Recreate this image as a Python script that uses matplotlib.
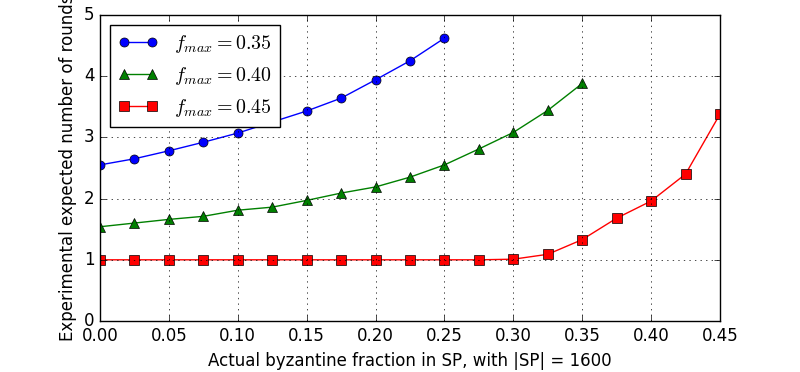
import matplotlib
matplotlib.use("Agg")
import matplotlib.pyplot as plt

plt.style.use('classic')

x_blue = [0.0, 0.025, 0.05, 0.075, 0.1, 0.125, 0.15, 0.175, 0.2, 0.225, 0.25]
y_blue = [2.55, 2.65, 2.78, 2.92, 3.07, 3.25, 3.43, 3.64, 3.94, 4.25, 4.62]

x_green = [0.0, 0.025, 0.05, 0.075, 0.1, 0.125, 0.15, 0.175, 0.2, 0.225, 0.25, 0.275, 0.3, 0.325, 0.35]
y_green = [1.54, 1.60, 1.66, 1.71, 1.81, 1.86, 1.97, 2.09, 2.19, 2.35, 2.55, 2.81, 3.08, 3.44, 3.88]

x_red = [0.0, 0.025, 0.05, 0.075, 0.1, 0.125, 0.15, 0.175, 0.2, 0.225, 0.25, 0.275, 0.3, 0.325, 0.35, 0.375, 0.4, 0.425, 0.45]
y_red = [1.0, 1.0, 1.0, 1.0, 1.0, 1.0, 1.0, 1.0, 1.0, 1.0, 1.0, 1.0, 1.01, 1.09, 1.33, 1.68, 1.96, 2.40, 3.38]

labels = [r'$f_{max} = 0.35$', r'$f_{max} = 0.40$', r'$f_{max} = 0.45$']

fig = plt.figure(figsize=(8, 3.72), dpi=100, facecolor='white')
ax = fig.add_axes([0.125, 0.137, 0.775, 0.823])

ax.plot(x_blue, y_blue, 'b-o', markersize=6.5, label=labels[0])
ax.plot(x_green, y_green, 'g-^', markersize=6.5, label=labels[1])
ax.plot(x_red, y_red, 'r-s', markersize=6.5, label=labels[2])

ax.set_xlim(0, 0.45)
ax.set_ylim(0, 5)
ax.grid(True)
ax.set_xlabel('Actual byzantine fraction in SP, with |SP| = 1600')
ax.set_ylabel('Experimental expected number of rounds')
ax.legend(loc='upper left')

fig.savefig('out.png', dpi=100, facecolor='white')
